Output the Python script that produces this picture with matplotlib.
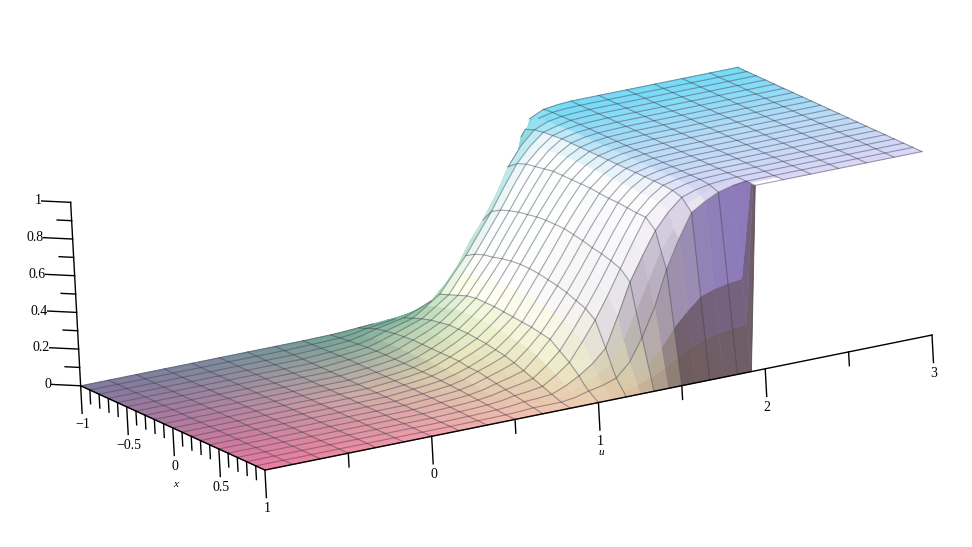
import numpy as np
import matplotlib
matplotlib.use('Agg')
import matplotlib.pyplot as plt
from mpl_toolkits.mplot3d import proj3d

# Grid of the surface
x_vals = [-1.0, -0.95, -0.9, -0.8, -0.7, -0.6, -0.5, -0.4, -0.3, -0.2, -0.1, 0.0, 0.1, 0.2,
          0.3, 0.4, 0.5, 0.6, 0.7, 0.8, 0.85, 0.9, 0.95, 0.975, 1.0]
u_flat_low = [-1.0, -0.833, -0.667, -0.5, -0.333, -0.167, 0.0, 0.167]
u_band = [0.333, 0.417, 0.5, 0.583, 0.667, 0.75, 0.833, 0.917, 1.0, 1.083, 1.167, 1.25, 1.333,
          1.417, 1.5, 1.583, 1.667, 1.75, 1.833, 1.917, 2.0]
u_flat_high = [2.167, 2.333, 2.5, 2.667, 2.833, 3.0]

# height in the band of u where the surface climbs, one row per x
z_band = [
    [0, .001, .002, .005, .01, .015, .02, .025, .03, .045, .07, .09, .12, .18, .28, .42, .72, .95, .985, .995, 1],
    [.001, .002, .004, .01, .018, .025, .035, .045, .055, .08, .12, .15, .20, .28, .40, .60, .88, .965, .99, .997, 1],
    [.003, .005, .008, .016, .03, .04, .05, .065, .08, .125, .18, .23, .30, .38, .50, .72, .93, .975, .992, .998, 1],
    [.005, .009, .015, .03, .05, .065, .08, .11, .14, .21, .30, .42, .52, .64, .78, .88, .95, .98, .993, .998, 1],
    [.008, .013, .02, .035, .06, .08, .10, .15, .20, .29, .38, .485, .59, .71, .82, .90, .96, .98, .995, .998, 1],
    [.01, .016, .025, .045, .07, .095, .12, .17, .22, .315, .41, .515, .62, .735, .84, .91, .965, .985, .995, .998, 1],
    [.012, .019, .028, .048, .075, .105, .135, .185, .24, .335, .43, .535, .64, .75, .85, .92, .97, .987, .995, .998, 1],
    [.012, .02, .03, .05, .08, .11, .145, .20, .26, .35, .44, .55, .655, .76, .86, .925, .97, .987, .995, .998, 1],
    [.012, .02, .03, .05, .08, .115, .155, .21, .27, .36, .455, .56, .665, .77, .87, .93, .97, .987, .995, .998, 1],
    [.012, .02, .03, .05, .08, .115, .155, .21, .27, .365, .465, .57, .675, .775, .87, .93, .97, .987, .995, .998, 1],
    [.012, .02, .03, .05, .08, .115, .155, .21, .27, .365, .47, .575, .68, .78, .87, .93, .97, .987, .995, .998, 1],
    [.012, .02, .03, .05, .08, .113, .15, .205, .265, .365, .47, .575, .68, .78, .87, .93, .97, .987, .995, .998, 1],
    [.012, .02, .03, .05, .08, .11, .145, .20, .26, .36, .465, .57, .68, .78, .87, .93, .97, .987, .995, .998, 1],
    [.012, .019, .028, .046, .07, .10, .135, .19, .255, .35, .455, .56, .67, .77, .865, .93, .97, .987, .995, .998, 1],
    [.01, .017, .025, .042, .07, .095, .125, .185, .25, .345, .445, .55, .66, .765, .86, .925, .97, .987, .995, .998, 1],
    [.01, .015, .022, .037, .06, .083, .11, .17, .24, .33, .43, .535, .645, .755, .86, .925, .97, .987, .995, .998, 1],
    [.008, .012, .018, .03, .05, .068, .09, .155, .23, .315, .41, .52, .635, .75, .855, .92, .97, .987, .995, .998, 1],
    [.006, .009, .014, .024, .04, .053, .07, .125, .19, .285, .39, .50, .62, .74, .85, .92, .97, .987, .995, .998, 1],
    [.004, .006, .01, .017, .03, .038, .05, .095, .15, .245, .35, .47, .60, .73, .85, .915, .965, .985, .995, .998, 1],
    [.002, .004, .006, .011, .02, .024, .03, .06, .10, .15, .22, .38, .55, .68, .80, .885, .95, .975, .99, .997, 1],
    [.001, .002, .004, .007, .012, .016, .02, .035, .065, .10, .145, .26, .40, .55, .70, .80, .92, .955, .98, .995, 1],
    [.001, .001, .002, .005, .01, .01, .01, .02, .04, .055, .08, .15, .27, .42, .61, .76, .89, .935, .97, .99, 1],
    [0, .001, .001, .002, .005, .005, .005, .01, .02, .03, .04, .08, .135, .21, .305, .38, .445, .47, .485, .495, 1],
    [0, 0, .001, .001, .002, .002, .002, .005, .01, .015, .02, .04, .07, .105, .15, .19, .22, .235, .245, .25, 1],
    [0, 0, 0, 0, 0, 0, 0, 0, 0, 0, 0, 0, 0, 0, 0, 0, 0, 0, 0, 0, 1],
]

# Mesh lines drawn on the surface
x_lines = [-1.0, -0.9, -0.8, -0.7, -0.6, -0.5, -0.4, -0.3, -0.2, -0.1, 0.0, 0.1, 0.2, 0.3, 0.4,
           0.5, 0.6, 0.7, 0.8, 0.9, 1.0]
u_lines = [-1.0, -0.833, -0.667, -0.5, -0.333, -0.167, 0.0, 0.167, 0.333, 0.5, 0.667, 0.833, 1.0,
           1.167, 1.333, 1.5, 1.667, 1.833, 2.0, 2.167, 2.333, 2.5, 2.667, 2.833, 3.0]
# parts behind the fold at the back of the climb
hidden_x_lines = {-1.0: (0.8, 1.75), -0.9: (0.85, 1.67), -0.8: (1.0, 1.5)}
fold_x = {0.833: -0.8, 1.0: -0.7, 1.167: -0.7, 1.333: -0.8, 1.5: -0.8, 1.667: -0.95}

# Ticks
x_major = [-1, -0.5, 0, 0.5, 1]
x_major_labels = ['\u22121', '\u22120.5', '0', '0.5', '1']
x_minor = [-0.9, -0.8, -0.7, -0.6, -0.4, -0.3, -0.2, -0.1, 0.1, 0.2, 0.3, 0.4, 0.6, 0.7, 0.8, 0.9]
u_major = [0, 1, 2, 3]
u_minor = [-0.5, 0.5, 1.5, 2.5]
z_major = [0, 0.2, 0.4, 0.6, 0.8, 1]
z_major_labels = ['0', '0.2', '0.4', '0.6', '0.8', '1']
z_minor = [0.1, 0.3, 0.5, 0.7, 0.9]

x_arr = np.array(x_vals)
u_arr = np.array(u_flat_low + u_band + u_flat_high)
Z = np.hstack([np.zeros((len(x_vals), len(u_flat_low))), np.array(z_band, dtype=float),
               np.ones((len(x_vals), len(u_flat_high)))])
X, U = np.meshgrid(x_arr, u_arr, indexing='ij')

# Colours of the light on the surface
dzdx, dzdu = np.gradient(Z, x_arr, u_arr)


def level(x, left, mid, right):
    return np.stack([np.interp(x, [-1, 0, 1], [left[i], mid[i], right[i]]) for i in range(3)], axis=-1)


b = np.clip((U + 1) / 2, 0, 1)[..., None] ** 1.3
low = level(X, (.50, .48, .62), (.72, .48, .62), (.93, .49, .62)) * (1 - b) \
    + level(X, (.42, .72, .58), (.92, .96, .70), (.97, .85, .72)) * b
high = level(X, (.45, .86, .97), (.72, .86, .97), (.86, .84, .97))
zc = Z[..., None]
col = low * (1 - zc) + high * zc

# climbing part catches the light: cream low down, white higher up
tint = np.clip(Z / 0.35, 0, 1)[..., None]
lit = (1 - tint) * np.array((1.0, 1.0, .78)) + tint * np.array((1.0, 1.0, 1.0))
white = np.clip((dzdu - 0.15) / 0.7, 0, 1) * 0.97 * np.clip((X + 0.95) / 0.3, 0.2, 1)
col = col * (1 - white[..., None]) + lit * white[..., None]

wall_col = (1 - zc) * np.array((.42, .35, .31)) + zc * np.array((.50, .42, .70))
dark = np.clip(-dzdx / 6.0, 0, 1)[..., None] ** 0.8
col = col * (1 - dark) + wall_col * dark
rgba = np.dstack([col, np.ones_like(Z)])

fig = plt.figure(figsize=(9.72, 5.47), dpi=100)
ax = fig.add_axes([-12.2 / 972, -235.2 / 547, 1000 / 972, 1000 / 547], projection='3d')
ax.computed_zorder = False
ax.set_proj_type('ortho')
ax.view_init(elev=16.09, azim=-27.83, roll=3.12)
ax.set_xlim(-1, 1, view_margin=0)
ax.set_ylim(-1, 3, view_margin=0)
ax.set_zlim(0, 1, view_margin=0)
ax.set_box_aspect((384.3, 761.5, 191.2), zoom=0.8486)
ax.set_xticks([])
ax.set_yticks([])
ax.set_zticks([])
ax.set_axis_off()

surf = ax.plot_surface(X, U, Z, facecolors=rgba, rstride=1, cstride=1, shade=False,
                       linewidth=0.4, zorder=1)
surf.set_edgecolor(rgba[:-1, :-1].reshape(-1, 4))

# Mesh lines
mesh_style = dict(color=(.22, .22, .28), alpha=0.45, lw=0.8, zorder=2)
for v in x_lines:
    i = np.argmin(np.abs(x_arr - v))
    gap = hidden_x_lines.get(v)
    if gap is None:
        ax.plot(X[i], U[i], Z[i], **mesh_style)
    else:
        keep = U[i] <= gap[0]
        ax.plot(X[i][keep], U[i][keep], Z[i][keep], **mesh_style)
        keep = U[i] >= gap[1]
        ax.plot(X[i][keep], U[i][keep], Z[i][keep], **mesh_style)
for v in u_lines:
    j = np.argmin(np.abs(u_arr - v))
    keep = x_arr >= fold_x.get(v, -1.0)
    ax.plot(X[keep, j], U[keep, j], Z[keep, j], **mesh_style)

# Axes
axis_style = dict(color='black', lw=1.0, zorder=3)
ax.plot([-1, 1], [-1, -1], [0, 0], **axis_style)
ax.plot([1, 1], [-1, 3], [0, 0], **axis_style)
ax.plot([-1, -1], [-1, -1], [0, 1], **axis_style)

serif = 'Liberation Serif'
proj = ax.get_proj()


def label(x, u, z, text, **kw):
    # place the text where the 3d point lands on the axes
    px, py, _ = proj3d.proj_transform(x, u, z, proj)
    kw.setdefault('fontsize', 10)
    kw.setdefault('ha', 'center')
    ax.text2D(px, py, text, transform=ax.transData, family=serif, va='center', **kw)


for v, lab in zip(x_major, x_major_labels):
    ax.plot([v, v], [-1, -1], [0, -0.15], **axis_style)
    label(v, -1, -0.21, lab)
for v in x_minor:
    ax.plot([v, v], [-1, -1], [0, -0.075], **axis_style)
for v in u_major:
    ax.plot([1, 1], [v, v], [0, -0.15], **axis_style)
    label(1, v, -0.21, str(v))
for v in u_minor:
    ax.plot([1, 1], [v, v], [0, -0.075], **axis_style)
for v, lab in zip(z_major, z_major_labels):
    ax.plot([-1, -1.119], [-1, -1.108], [v, v], **axis_style)
    label(-1.119, -1.108, v, lab, ha='right')
for v in z_minor:
    ax.plot([-1, -1.06], [-1, -1.054], [v, v], **axis_style)

label(0, -1, -0.31, 'x', style='italic', fontsize=8)
label(1, 1, -0.27, 'u', style='italic', fontsize=8)

fig.savefig('out.png', dpi=100)
